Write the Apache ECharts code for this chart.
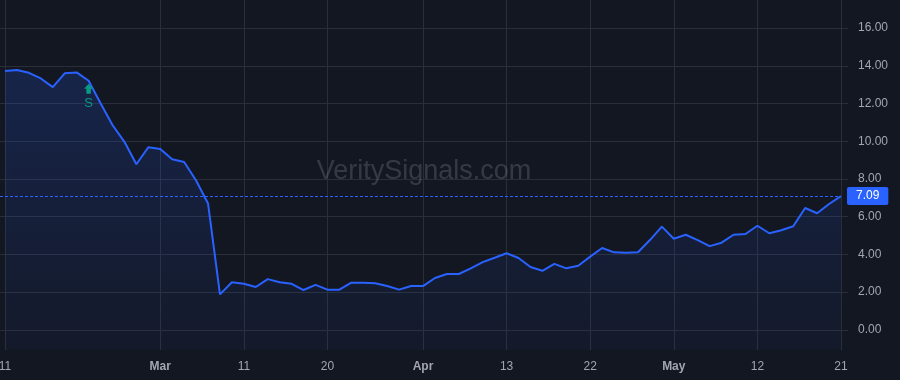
<!DOCTYPE html>
<html>
<head>
<meta charset="utf-8">
<script src="https://cdn.jsdelivr.net/npm/echarts@6/dist/echarts.min.js"></script>
<style>
  html, body { margin: 0; padding: 0; background: #131722; }
  #chart { width: 900px; height: 380px; }
</style>
</head>
<body>
<div id="chart"></div>
<script>
// ---- data ----
const values = [
  13.72, 13.78, 13.63, 13.33, 12.87, 13.60, 13.65, 13.21, 12.01, 10.86,
  9.97, 8.78, 9.68, 9.59, 9.04, 8.90, 7.92, 6.70, 1.88, 2.52,
  2.44, 2.27, 2.69, 2.52, 2.44, 2.11, 2.38, 2.13, 2.13, 2.50,
  2.50, 2.47, 2.32, 2.13, 2.32, 2.32, 2.75, 2.96, 2.96, 3.26,
  3.59, 3.82, 4.06, 3.81, 3.33, 3.13, 3.50, 3.26, 3.40, 3.88,
  4.34, 4.11, 4.09, 4.11, 4.76, 5.47, 4.83, 5.04, 4.76, 4.44,
  4.62, 5.04, 5.08, 5.52, 5.12, 5.28, 5.49, 6.46, 6.18, 6.67,
  7.09
];
const tickAt   = [0, 13, 20, 27, 35, 42, 49, 56, 63, 70];
const tickText = ['11', 'Mar', '11', '20', 'Apr', '13', '22', 'May', '12', '21'];
const yTicksMin = 0, yTicksMax = 16, yTickStep = 2;
const signalIndex = 7;
const signalText = 'S';
const watermarkText = 'VeritySignals.com';

// ---- chart ----
const categories = values.map((_, i) => i);
const lastValue = values[values.length - 1];
const yMin = -1.07, yMax = 17.49;

const BG = '#131722', GRID = '#2a2e39', TXT = '#a3a6af', BLUE = '#2962ff', TEAL = '#089981';
const FONT = '"Liberation Sans", Arial, sans-serif';

const chart = echarts.init(document.getElementById('chart'), null, { renderer: 'canvas' });
chart.setOption({
  backgroundColor: BG,
  animation: false,
  textStyle: { fontFamily: FONT },
  graphic: [{
    type: 'text', x: 424, y: 172, z: 1, silent: true,
    style: {
      text: watermarkText, fill: 'rgba(178,181,190,0.22)',
      font: '27px ' + FONT, textAlign: 'center', textVerticalAlign: 'middle'
    }
  }],
  grid: [
    { left: 0, right: 52, top: 28.1, bottom: 50.2, outerBoundsMode: 'none', containLabel: false },
    { left: 5, right: 59, top: 0, bottom: 30, outerBoundsMode: 'none', containLabel: false },
    { left: 0, right: 59, top: 0, bottom: 30, outerBoundsMode: 'none', containLabel: false }
  ],
  xAxis: [
    { gridIndex: 0, type: 'value', min: 0, max: 1, show: false },
    {
      gridIndex: 1, type: 'category', data: categories, boundaryGap: false,
      axisLine: { show: false }, axisTick: { show: false },
      splitLine: { show: true, interval: (i) => tickAt.includes(i), lineStyle: { color: GRID, width: 1 } },
      axisLabel: {
        interval: (i) => tickAt.includes(i),
        margin: 11, color: TXT, fontSize: 12, fontFamily: FONT,
        formatter: (v, i) => {
          const t = tickText[tickAt.indexOf(i)];
          if (t === undefined) return '';
          return isNaN(Number(t)) ? '{b|' + t + '}' : t;
        },
        rich: { b: { fontWeight: 'bold', color: TXT, fontSize: 12, fontFamily: FONT } }
      }
    },
    { gridIndex: 2, type: 'value', min: 0, max: 1, show: false }
  ],
  yAxis: [
    {
      gridIndex: 0, type: 'value', position: 'right', min: yTicksMin, max: yTicksMax, interval: yTickStep,
      axisLine: { show: false }, axisTick: { show: false },
      splitLine: { show: true, lineStyle: { color: GRID, width: 1 } },
      axisLabel: { margin: 10, color: TXT, fontSize: 12, fontFamily: FONT, formatter: (v) => v.toFixed(2) }
    },
    { gridIndex: 1, type: 'value', min: yMin, max: yMax, show: false, splitLine: { show: false } },
    { gridIndex: 2, type: 'value', min: yMin, max: yMax, show: false, splitLine: { show: false } }
  ],
  series: [
    {
      type: 'line', xAxisIndex: 1, yAxisIndex: 1, data: values, z: 3,
      symbol: 'none', smooth: false,
      lineStyle: { color: BLUE, width: 2 },
      areaStyle: {
        origin: 'start',
        color: new echarts.graphic.LinearGradient(0, 0, 0, 1, [
          { offset: 0, color: 'rgba(41,98,255,0.26)' },
          { offset: 1, color: 'rgba(41,98,255,0.05)' }
        ])
      },
      markPoint: {
        silent: true,
        symbol: 'path://M4,0 L8,5 L6,5 L6,10 L2,10 L2,5 L0,5 Z',
        symbolSize: [9, 10],
        symbolOffset: [0, 8],
        itemStyle: { color: TEAL },
        label: {
          show: true, position: 'bottom', distance: 3, formatter: signalText,
          color: TEAL, fontSize: 13, fontFamily: FONT
        },
        data: [{ coord: [signalIndex, values[signalIndex]] }]
      }
    },
    {
      type: 'line', xAxisIndex: 2, yAxisIndex: 2, data: [], z: 4,
      markLine: {
        silent: true, symbol: ['none', 'none'], animation: false,
        lineStyle: { color: BLUE, width: 1, type: [3, 2] },
        label: {
          show: true, position: 'end', distance: 6,
          formatter: () => lastValue.toFixed(2),
          color: '#ffffff', backgroundColor: BLUE, borderRadius: 2,
          padding: [3, 9, 3, 9], lineHeight: 12, fontSize: 12, fontFamily: FONT
        },
        data: [{ yAxis: lastValue }]
      }
    }
  ]
});
</script>
</body>
</html>
